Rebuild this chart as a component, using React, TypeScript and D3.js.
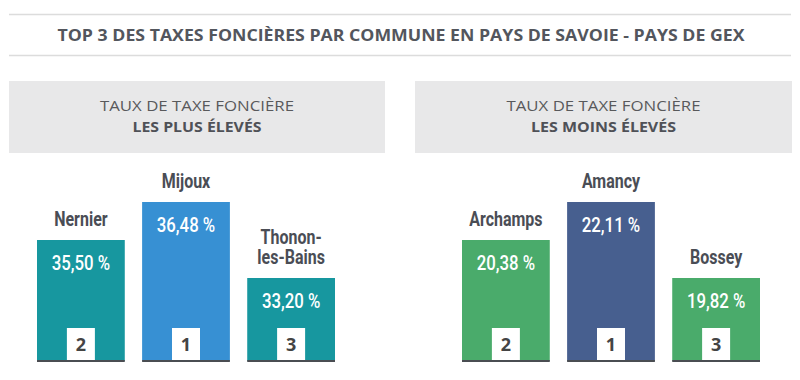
import React from "react";
import * as d3 from "d3";

const TITLE = "TOP 3 DES TAXES FONCIÈRES PAR COMMUNE EN PAYS DE SAVOIE - PAYS DE GEX";

const panelTitles = ["TAUX DE TAXE FONCIÈRE", "TAUX DE TAXE FONCIÈRE"];
const panelSubtitles = ["LES PLUS ÉLEVÉS", "LES MOINS ÉLEVÉS"];

// display order: rank 2, rank 1, rank 3 (podium)
const highCommunes = ["Nernier", "Mijoux", "Thonon-\nles-Bains"];
const highValues = [35.5, 36.48, 33.2];
const highRanks = [2, 1, 3];

const lowCommunes = ["Archamps", "Amancy", "Bossey"];
const lowValues = [20.38, 22.11, 19.82];
const lowRanks = [2, 1, 3];

const highColors = ["#17979f", "#3790d3", "#17979f"];
const lowColors = ["#4aab6b", "#475f8f", "#4aab6b"];

const W = 800;
const H = 380;
const baseline = 361;

const fmt = (v: number) => d3.format(".2f")(v).replace(".", ",") + " %";

type PanelProps = {
  x0: number;
  x1: number;
  title: string;
  subtitle: string;
  titleLen: number;
  subLen: number;
  communes: string[];
  values: number[];
  ranks: number[];
  colors: string[];
  barX0: number;
  barX1: number;
};

function Panel(p: PanelProps) {
  const cx = (p.x0 + p.x1) / 2;
  const xScale = d3
    .scaleBand<number>()
    .domain(d3.range(p.communes.length))
    .range([p.barX0, p.barX1])
    .paddingInner(0.165)
    .paddingOuter(0);
  // podium height by rank
  const hScale = d3.scaleLinear().domain([3, 1]).range([83, 159]);
  const condensed = 0.8;
  const lineGap = 20.5;
  return (
    <g>
      <rect x={p.x0} y={81} width={p.x1 - p.x0} height={72} fill="#e8e8e9" />
      <text
        x={cx}
        y={111}
        textAnchor="middle"
        fontFamily="'Open Sans', sans-serif"
        fontWeight={400}
        fontSize={15}
        fill="#58595b"
        textLength={p.titleLen}
        lengthAdjust="spacingAndGlyphs"
      >
        {p.title}
      </text>
      <text
        x={cx}
        y={132}
        textAnchor="middle"
        fontFamily="'Open Sans', sans-serif"
        fontWeight={700}
        fontSize={15}
        fill="#4f5157"
        textLength={p.subLen}
        lengthAdjust="spacingAndGlyphs"
      >
        {p.subtitle}
      </text>
      {p.communes.map((c, i) => {
        const bx = xScale(i)!;
        const bw = xScale.bandwidth();
        const h = hScale(p.ranks[i]);
        const top = baseline - h;
        const mx = bx + bw / 2;
        const lines = c.split("\n");
        return (
          <g key={i}>
            <rect x={bx} y={top} width={bw} height={h} fill={p.colors[i]} />
            <rect x={bx} y={baseline - 1} width={bw} height={2} fill="#4a4d52" />
            <rect x={mx - 14} y={top + h - 33} width={28} height={32} fill="#ffffff" />
            <text
              x={mx}
              y={baseline - 10}
              textAnchor="middle"
              fontFamily="'Open Sans', sans-serif"
              fontWeight={700}
              fontSize={18}
              fill="#444">
              {p.ranks[i]}
            </text>
            <text
              transform={`translate(${mx},${top + 30}) scale(${condensed},1)`}
              textAnchor="middle"
              fontFamily="Roboto, sans-serif"
              fontWeight={500}
              fontSize={21}
              fill="#ffffff">
              {fmt(p.values[i])}
            </text>
            <text
              transform={`translate(${mx},${top - 14 - (lines.length - 1) * lineGap}) scale(0.82,1)`}
              textAnchor="middle"
              fontFamily="Roboto, sans-serif"
              fontWeight={700}
              fontSize={19.5}
              fill="#4a4d55">
              {lines.map((ln, j) => (
                <tspan key={j} x={0} dy={j === 0 ? 0 : lineGap}>
                  {ln}
                </tspan>
              ))}
            </text>
          </g>
        );
      })}
    </g>
  );
}

export default function App() {
  return (
    <svg width={W} height={H} style={{ position: "absolute", left: 0, top: 0, background: "#fff" }}>
      <line x1={9} x2={791} y1={14.5} y2={14.5} stroke="#dcdcdc" strokeWidth={1.5} />
      <line x1={9} x2={791} y1={55.5} y2={55.5} stroke="#dcdcdc" strokeWidth={1.5} />
      <text
        x={401}
        y={41}
        textAnchor="middle"
        fontFamily="'Open Sans', sans-serif"
        fontWeight={700}
        fontSize={15.5}
        fill="#53565d"
        textLength={687}
        lengthAdjust="spacingAndGlyphs"
      >
        {TITLE}
      </text>
      <Panel
        x0={9}
        x1={385}
        title={panelTitles[0]}
        subtitle={panelSubtitles[0]}
        titleLen={194}
        subLen={129}
        communes={highCommunes}
        values={highValues}
        ranks={highRanks}
        colors={highColors}
        barX0={37}
        barX1={335}
      />
      <Panel
        x0={415}
        x1={792}
        title={panelTitles[1]}
        subtitle={panelSubtitles[1]}
        titleLen={194}
        subLen={145}
        communes={lowCommunes}
        values={lowValues}
        ranks={lowRanks}
        colors={lowColors}
        barX0={462}
        barX1={760}
      />
    </svg>
  );
}
